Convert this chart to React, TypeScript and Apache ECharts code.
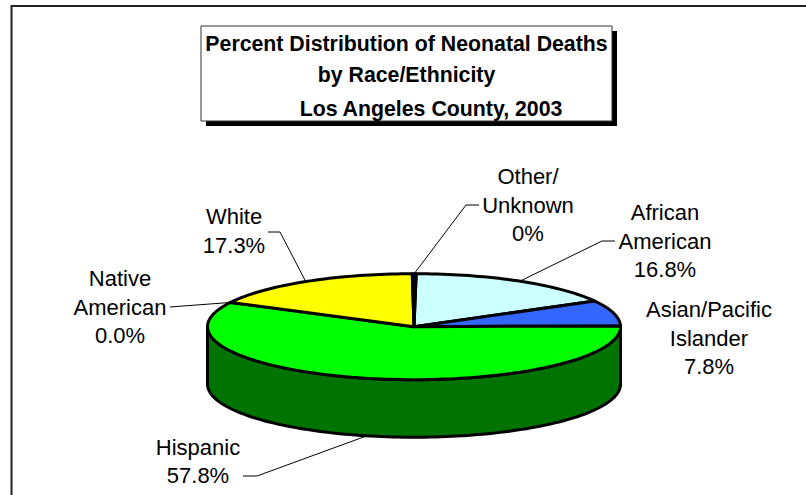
import React, { useEffect, useRef } from "react";
import * as echarts from "echarts";

const categories = ["African American", "Asian/Pacific Islander", "Hispanic", "Native American", "White", "Other/Unknown"];
const values = [16.8, 7.8, 57.8, 0.0, 17.3, 0.3];
const labelTexts = ["African\nAmerican\n16.8%", "Asian/Pacific\nIslander\n7.8%", "Hispanic\n57.8%", "Native\nAmerican\n0.0%", "White\n17.3%", "Other/\nUnknown\n0%"];
const titleLines = ["Percent Distribution of Neonatal Deaths", "by Race/Ethnicity", "Los Angeles County, 2003"];

const topColors = ["#CCFFFF", "#3366FF", "#00FF00", "#FF00FF", "#FFFF00", "#000080"];
const sideColors = ["#669999", "#1A3380", "#007300", "#800080", "#808000", "#000040"];

// Layout of the pie and its annotations (pixels)
const CX = 414, CY = 326.7, RX = 206.5, RY = 53, DEPTH = 57.5, START_DEG = 0.6;
const LABEL_FONT = '22px "Liberation Sans", Arial, sans-serif';
const LABEL_LH = 28.4;
const labelPos: [number, number][] = [[665, 241], [709, 338], [198, 461.6], [120, 307], [234, 231], [528, 205]];
// leader: label-side start, elbow; null = no leader
const leaderStart: ([number, number][] | null)[] = [
  [[615, 241], [602, 241]],
  null,
  [[243, 476], [257, 476]],
  [[170, 307]],
  [[268, 232], [280, 232]],
  [[479, 205], [466, 205]],
];

const total = values.reduce((a, b) => a + b, 0);
const angles: number[] = [];
values.reduce((acc, v) => { angles.push(acc); return acc + (v / total) * 360; }, START_DEG);

const rim = (deg: number, dy = 0): [number, number] => {
  const r = (deg * Math.PI) / 180;
  return [CX + RX * Math.sin(r), CY - RY * Math.cos(r) + dy];
};

const arc = (a0: number, a1: number, dy = 0) => {
  const n = Math.max(2, Math.ceil(Math.abs(a1 - a0) / 1.5));
  const pts: [number, number][] = [];
  for (let i = 0; i <= n; i++) pts.push(rim(a0 + ((a1 - a0) * i) / n, dy));
  return pts;
};

const renderItem = (params: any, api: any) => {
  const i = params.dataIndex;
  const v = api.value(0);
  const a0 = angles[i];
  const a1 = a0 + (v / total) * 360;
  const mid = (a0 + a1) / 2;
  const children: any[] = [];
  const stroke = { stroke: "#000", lineWidth: 3, lineJoin: "round" };

  const f0 = Math.max(a0, 90), f1 = Math.min(a1, 270);
  if (f1 > f0) {
    children.push({
      type: "polygon",
      shape: { points: [...arc(f0, f1), ...arc(f1, f0, DEPTH)] },
      style: { fill: sideColors[i], ...stroke },
    });
  }
  if (v > 0) {
    children.push({
      type: "polygon",
      shape: { points: [[CX, CY], ...arc(a0, a1)] },
      style: { fill: topColors[i], ...stroke },
    });
  }
  const lead = leaderStart[i];
  if (lead) {
    const end = rim(mid, mid > 90 && mid < 270 ? DEPTH : 0);
    children.push({
      type: "polyline",
      shape: { points: [...lead, end] },
      style: { fill: "none", stroke: "#000", lineWidth: 1 },
    });
  }
  children.push({
    type: "text",
    style: {
      text: labelTexts[i],
      x: labelPos[i][0],
      y: labelPos[i][1],
      align: "center",
      verticalAlign: "middle",
      font: LABEL_FONT,
      lineHeight: LABEL_LH,
      fill: "#000",
    },
  });
  return { type: "group", children };
};

const TITLE_FONT = 'bold 21.3px "Liberation Sans", Arial, sans-serif';

export default function App() {
  const ref = useRef<HTMLDivElement>(null);
  useEffect(() => {
    const chart = echarts.init(ref.current!, undefined, { renderer: "svg" });
    chart.setOption({
      animation: false,
      backgroundColor: "#fff",
      series: [
        {
          type: "custom",
          coordinateSystem: "none",
          name: "Percent Distribution",
          data: values.map((v, i) => ({ name: categories[i], value: [v] })),
          renderItem,
          silent: true,
          clip: false,
        },
      ],
      graphic: [
        { type: "polyline", shape: { points: [[11.5, 495], [11.5, 6], [806, 6]] }, style: { fill: "none", stroke: "#222", lineWidth: 2 } },
        { type: "rect", shape: { x: 206, y: 31, width: 411, height: 95 }, style: { fill: "#000" } },
        { type: "rect", shape: { x: 201, y: 26, width: 411, height: 95 }, style: { fill: "#fff", stroke: "#333", lineWidth: 1 } },
        { type: "text", style: { text: titleLines[0], x: 406.5, y: 44, align: "center", verticalAlign: "middle", font: TITLE_FONT, fill: "#000" } },
        { type: "text", style: { text: titleLines[1], x: 406.5, y: 75, align: "center", verticalAlign: "middle", font: TITLE_FONT, fill: "#000" } },
        { type: "text", style: { text: titleLines[2], x: 431, y: 109, align: "center", verticalAlign: "middle", font: TITLE_FONT, fill: "#000" } },
      ],
    });
    return () => chart.dispose();
  }, []);
  return <div ref={ref} style={{ position: "absolute", left: 0, top: 0, width: 806, height: 495 }} />;
}
